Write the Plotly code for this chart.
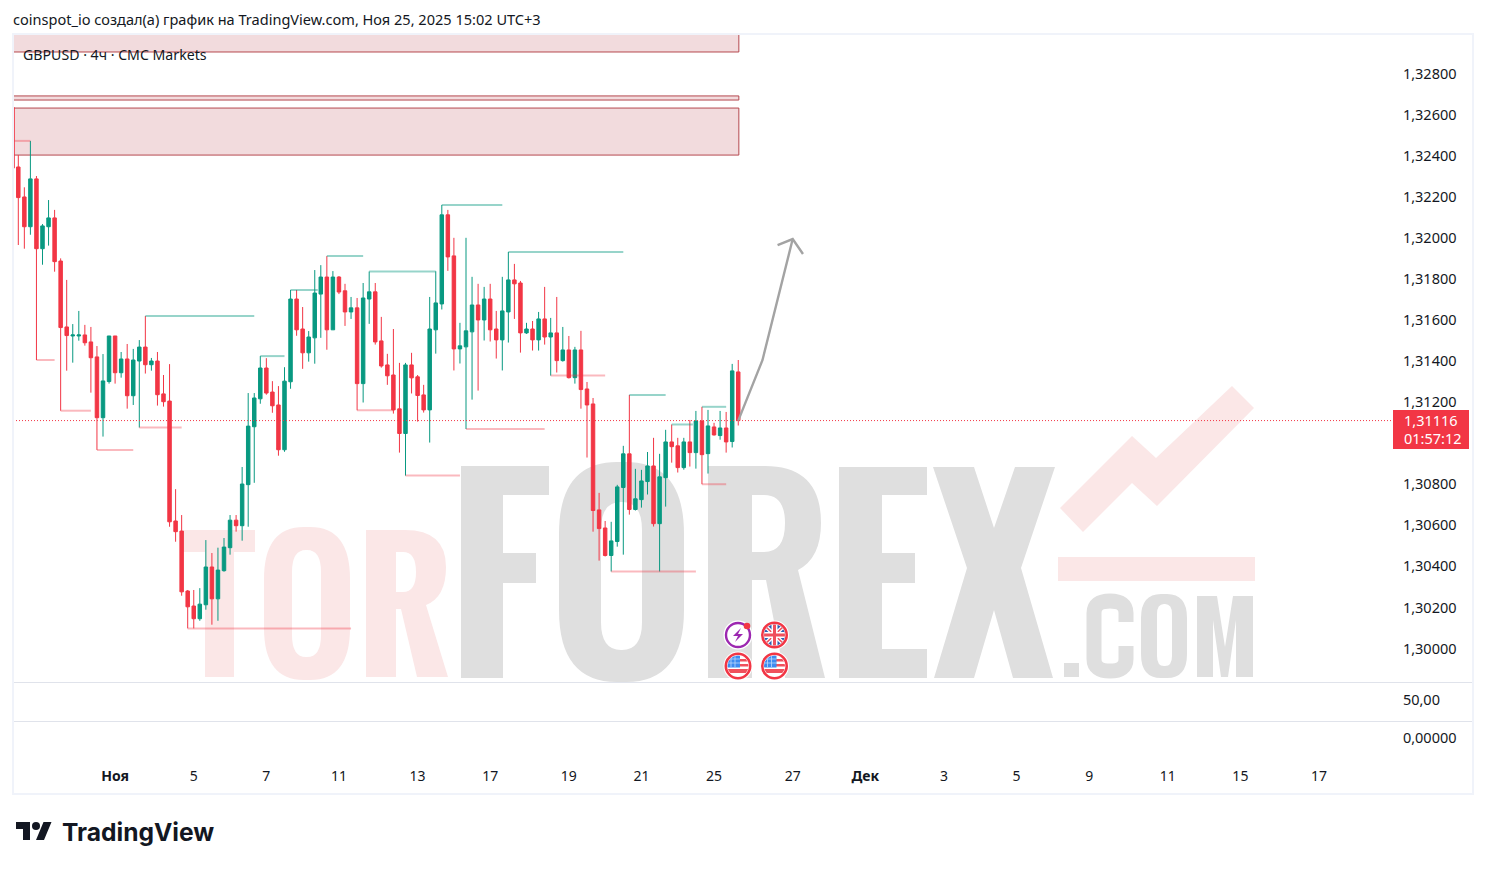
import base64
import plotly.graph_objects as go

highs = [1.32403,1.32246,1.32472,1.32301,1.32067,1.32184,1.32136,1.31900,1.31795,1.31580,
 1.31644,1.31576,1.31566,1.31473,1.31434,1.31522,1.31522,1.31444,1.31483,1.31459,
 1.31502,1.31619,1.31415,1.31444,1.31332,1.31385,1.30776,1.30650,1.30285,1.30285,
 1.30294,1.30528,1.30465,1.30491,1.30538,1.30650,1.30650,1.30884,1.31244,1.31244,
 1.31424,1.31414,1.31302,1.31278,1.31370,1.31746,1.31746,1.31663,1.31546,1.31843,
 1.31867,1.31911,1.31838,1.31814,1.31776,1.31712,1.31707,1.31780,1.31836,1.31780,
 1.31615,1.31435,1.31556,1.31391,1.31391,1.31440,1.31332,1.31284,1.31712,1.31837,
 1.32160,1.32136,1.32000,1.31586,1.32000,1.31810,1.31776,1.31761,1.31776,1.31644,
 1.31810,1.31931,1.31873,1.31790,1.31586,1.31595,1.31639,1.31761,1.31610,1.31712,
 1.31566,1.31522,1.31469,1.31547,1.31298,1.31220,1.30758,1.30621,1.30617,1.30797,
 1.30987,1.31235,1.30875,1.30870,1.30957,1.31026,1.30948,1.31065,1.31091,1.31026,
 1.31026,1.31113,1.31157,1.31177,1.31162,1.31099,1.31157,1.31152,1.31386,1.31405]
opens = [1.32345,1.32199,1.32054,1.32287,1.31947,1.32054,1.32097,1.31887,1.31566,1.31522,
 1.31522,1.31527,1.31493,1.31420,1.31124,1.31300,1.31522,1.31343,1.31410,1.31231,
 1.31400,1.31468,1.31382,1.31400,1.31240,1.31205,1.30621,1.30572,1.30280,1.30207,
 1.30145,1.30213,1.30397,1.30242,1.30379,1.30491,1.30625,1.30598,1.30798,1.31080,
 1.31216,1.31366,1.31249,1.31186,1.30968,1.31299,1.31702,1.31556,1.31440,1.31513,
 1.31726,1.31809,1.31552,1.31809,1.31742,1.31639,1.31659,1.31290,1.31702,1.31737,
 1.31498,1.31381,1.31332,1.31167,1.31047,1.31381,1.31323,1.31235,1.31162,1.31552,
 1.31678,1.32112,1.31912,1.31459,1.31469,1.31542,1.31673,1.31600,1.31702,1.31556,
 1.31503,1.31639,1.31795,1.31780,1.31537,1.31556,1.31503,1.31605,1.31517,1.31537,
 1.31402,1.31454,1.31319,1.31454,1.31264,1.31191,1.30675,1.30587,1.30453,1.30521,
 1.30784,1.30948,1.30677,1.30725,1.30813,1.30889,1.30608,1.30832,1.31006,1.30987,
 1.30881,1.31006,1.30954,1.31108,1.30949,1.31079,1.31037,1.31074,1.31008,1.31347]
closes = [1.32196,1.32054,1.32287,1.31947,1.32058,1.32097,1.31884,1.31563,1.31524,1.31527,
 1.31527,1.31489,1.31416,1.31124,1.31303,1.31522,1.31343,1.31410,1.31231,1.31405,
 1.31468,1.31382,1.31400,1.31236,1.31202,1.30617,1.30569,1.30276,1.30203,1.30145,
 1.30216,1.30397,1.30242,1.30382,1.30494,1.30625,1.30598,1.30801,1.31083,1.31220,
 1.31366,1.31244,1.31182,1.30968,1.31302,1.31702,1.31552,1.31440,1.31517,1.31731,
 1.31809,1.31552,1.31809,1.31736,1.31639,1.31659,1.31290,1.31707,1.31737,1.31493,
 1.31376,1.31328,1.31162,1.31047,1.31381,1.31318,1.31232,1.31162,1.31556,1.31683,
 1.32112,1.31907,1.31459,1.31474,1.31547,1.31673,1.31600,1.31702,1.31552,1.31503,
 1.31644,1.31795,1.31776,1.31537,1.31556,1.31503,1.31605,1.31517,1.31537,1.31402,
 1.31454,1.31319,1.31454,1.31261,1.31186,1.30672,1.30584,1.30453,1.30524,1.30787,
 1.30948,1.30677,1.30729,1.30816,1.30889,1.30608,1.30836,1.31006,1.30983,1.30881,
 1.31006,1.30954,1.31108,1.30944,1.31084,1.31040,1.31074,1.31006,1.31352,1.31110]
lows = [1.31965,1.31947,1.32015,1.31405,1.31869,1.31962,1.31835,1.31158,1.31353,1.31392,
 1.31499,1.31475,1.31246,1.30967,1.31032,1.31290,1.31290,1.31319,1.31168,1.31186,
 1.31076,1.31339,1.31353,1.31183,1.31178,1.30593,1.30520,1.30257,1.30098,1.30098,
 1.30135,1.30189,1.30116,1.30135,1.30374,1.30457,1.30569,1.30525,1.30593,1.30807,
 1.31192,1.31236,1.31148,1.30939,1.30958,1.31265,1.31523,1.31362,1.31397,1.31387,
 1.31513,1.31455,1.31552,1.31726,1.31571,1.31605,1.31160,1.31198,1.31581,1.31480,
 1.31368,1.31284,1.31144,1.30954,1.30842,1.31242,1.31105,1.31149,1.31003,1.31436,
 1.31651,1.31839,1.31354,1.31388,1.31069,1.31212,1.31256,1.31500,1.31495,1.31412,
 1.31354,1.31490,1.31605,1.31441,1.31532,1.31451,1.31451,1.31480,1.31329,1.31344,
 1.31397,1.31315,1.31290,1.31168,1.30930,1.30569,1.30428,1.30448,1.30375,1.30496,
 1.30457,1.30652,1.30672,1.30686,1.30750,1.30594,1.30375,1.30691,1.30905,1.30857,
 1.30871,1.30886,1.30876,1.30800,1.30852,1.31037,1.31017,1.30954,1.30979,1.31086]
bars = list(range(len(closes)))

price_ticks = [1.300,1.302,1.304,1.306,1.308,1.312,1.314,1.316,1.318,1.320,1.322,1.324,1.326,1.328]
time_tick_bars = [16,29,41,53,66,78,91,103,115,128,140,153,165,177,190,202,215]
time_tick_text = ["<b>Ноя</b>","5","7","11","13","17","19","21","25","27","<b>Дек</b>","3","5","9","11","15","17"]
osc_ticks = [50, 0]
osc_text = ["50,00", "0,00000"]

zone_tops = [1.33100, 1.32691, 1.32632]
zone_bottoms = [1.32905, 1.32671, 1.32403]

res_start = [21,40,45,51,58,70,81,101,108,113]
res_end = [39,44,49.5,57,69,80,100,107,111.5,117]
res_price = [1.31619,1.31424,1.31746,1.31911,1.31836,1.32160,1.31931,1.31235,1.31091,1.31177]
sup_start = [-0.7,3,7,13,20,28,56,64,74,88,98,113]
sup_end = [2,6,12,19,27,55,62,73,87,97,112,117]
sup_price = [1.32472,1.31405,1.31158,1.30967,1.31076,1.30098,1.31160,1.30842,1.31069,1.31329,1.30375,1.30800]

edge_wick_x = [-0.7,-0.7]
edge_wick_y = [1.32636,1.32339]
arrow_x = [119,123,128,None,125.5,128,129.7]
arrow_y = [1.31110,1.31404,1.31994,None,1.31965,1.31994,1.31921]
last_price = 1.31110

UP, DOWN = "#089981", "#F23645"
INK = "#131722"
FONT = "Noto Sans"
TICK = 14.5

L, R_PLOT, TOP, PANE, BOTTOM = 13, 1396, 34, 682, 757
W, H = R_PLOT - L, BOTTOM - TOP
xp = lambda px: (px - L) / W
yp = lambda py: 1 - (py - TOP) / H


def segs(a, b, p):
    xs, ys = [], []
    for s, e, v in zip(a, b, p):
        xs += [s, e, None]
        ys += [v, v, None]
    return xs, ys


def uri(svg):
    return "data:image/svg+xml;base64," + base64.b64encode(svg.encode()).decode()


def rrect(x0, y0, x1, y1, rx, ry):
    return (f"M{x0+rx},{y0} H{x1-rx} Q{x1},{y0} {x1},{y0+ry} V{y1-ry} Q{x1},{y1} {x1-rx},{y1} "
            f"H{x0+rx} Q{x0},{y1} {x0},{y1-ry} V{y0+ry} Q{x0},{y0} {x0+rx},{y0} Z ")


pink = "#FBE7E7"
grey = "#DFDFDF"
mark = f'''<svg xmlns="http://www.w3.org/2000/svg" width="1487" height="869" viewBox="0 0 1487 869">
<g fill="{pink}" fill-rule="evenodd">
<path d="M183,530 H255 V552 H234 V677 H205 V552 H183 Z"/>
<path d="{rrect(264,527,350,680,40,52)}{rrect(292,550,321,657,14,22)}"/>
<path d="M366,530 H405 Q446,530 446,567 Q446,597 426,605 L448,677 H417 L401,609 H396 V677 H366 Z M396,552 V592 H403 Q416,592 416,572 Q416,552 403,552 Z"/>
<path d="M1060,508 L1132,436 L1156,458 L1232,386 L1254,408 L1157,506 L1132,483 L1083,532 Z"/>
<rect x="1058" y="557" width="197" height="24"/>
</g>
<g fill="{grey}" fill-rule="evenodd">
<path d="M461,466 H549 V495 H503 V553 H536 V583 H503 V678 H461 Z"/>
<path d="{rrect(559,462,684,682,58,72)}{rrect(601,502,642,650,20,28)}"/>
<path d="M708,466 H765 Q821,466 821,523 Q821,558 798,570 L825,678 H785 L766,580 H752 V678 H708 Z M752,495 V552 H764 Q785,552 785,523 Q785,495 764,495 Z"/>
<path d="M839,467 H927 V495 H882 V553 H915 V583 H882 V649 H927 V678 H839 Z"/>
<path d="M933,467 H974 L994,528 L1015,467 H1055 L1021,568 L1053,678 H1013 L994,610 L974,678 H934 L967,568 Z"/>
<rect x="1064" y="663" width="15" height="14"/>
<path d="{rrect(1141,594,1187,678,20,24)}{rrect(1157,604,1172,666,7,10)}"/>
<path d="M1197,596 H1217 L1225,647 L1233,596 H1253 V677 H1236 V620 L1228,677 H1221 L1213,620 V677 H1197 Z"/>
</g>
<path d="M1126,622 V613 Q1126,601 1110,601 Q1094,601 1094,613 V659 Q1094,671 1110,671 Q1126,671 1126,659 V646" fill="none" stroke="{grey}" stroke-width="15"/>
</svg>'''


def us_flag(cx, cy, cid):
    return f'''<clipPath id="{cid}"><circle cx="{cx}" cy="{cy}" r="10.5"/></clipPath>
<circle cx="{cx}" cy="{cy}" r="14.5" fill="#fff"/>
<g clip-path="url(#{cid})"><rect x="{cx-11}" y="{cy-11}" width="22" height="22" fill="#fff"/>
<rect x="{cx-11}" y="{cy+3}" width="22" height="4" fill="#F0505C"/>
<rect x="{cx}" y="{cy-7}" width="11" height="2.5" fill="#F0505C"/>
<rect x="{cx}" y="{cy-2}" width="11" height="2.5" fill="#F0505C"/>
<rect x="{cx-11}" y="{cy-11}" width="13" height="12.5" fill="#3D8BF0"/>
<path d="M{cx-7},{cy-11} V{cy+1} M{cx-3},{cy-11} V{cy+1} M{cx-11},{cy-7} H{cx+2} M{cx-11},{cy-3} H{cx+2}" stroke="#BBD8FA" stroke-width="0.8"/></g>
<circle cx="{cx}" cy="{cy}" r="12.2" fill="none" stroke="#F23645" stroke-width="2.6"/>'''


overlay = f'''<svg xmlns="http://www.w3.org/2000/svg" width="1487" height="869" viewBox="0 0 1487 869">
<circle cx="738" cy="635" r="14.5" fill="#fff"/>
<circle cx="738" cy="635" r="12" fill="none" stroke="#9C27B0" stroke-width="2.4"/>
<path d="M741,628 L733,636 H738 L735,642 L743,634 H738 Z" fill="#9C27B0"/>
<circle cx="747" cy="626" r="3.3" fill="#F23645"/>
<clipPath id="uk"><circle cx="774.5" cy="635" r="10.5"/></clipPath>
<circle cx="774.5" cy="635" r="14.5" fill="#fff"/>
<g clip-path="url(#uk)"><rect x="763" y="624" width="23" height="22" fill="#2B5FB3"/>
<path d="M763,624 L786,646 M786,624 L763,646" stroke="#fff" stroke-width="4"/>
<path d="M763,624 L786,646 M786,624 L763,646" stroke="#F0505C" stroke-width="1.5"/>
<path d="M774.5,623 V647 M762,635 H787" stroke="#fff" stroke-width="6"/>
<path d="M774.5,623 V647 M762,635 H787" stroke="#F0505C" stroke-width="3"/></g>
<circle cx="774.5" cy="635" r="12.2" fill="none" stroke="#F23645" stroke-width="2.6"/>
{us_flag(738,666,"us1")}
{us_flag(774.5,666,"us2")}
<g transform="translate(16,818)"><path d="M14 22H7V11H0V4h14v18ZM28 22h-8l7.5-18h8L28 22Z" fill="#131722"/><circle cx="20" cy="8" r="4" fill="#131722"/></g>
</svg>'''

res_x, res_y = segs(res_start, res_end, res_price)
sup_x, sup_y = segs(sup_start, sup_end, sup_price)

fig = go.Figure()
fig.add_trace(go.Scatter(x=res_x, y=res_y, mode="lines", hoverinfo="skip",
                         line=dict(color="rgba(8,153,129,0.42)", width=2)))
fig.add_trace(go.Scatter(x=sup_x, y=sup_y, mode="lines", hoverinfo="skip",
                         line=dict(color="rgba(242,54,69,0.35)", width=2)))
fig.add_trace(go.Scatter(x=edge_wick_x, y=edge_wick_y, mode="lines", hoverinfo="skip",
                         line=dict(color=DOWN, width=1.5)))
fig.add_trace(go.Candlestick(
    x=bars, open=opens, high=highs, low=lows, close=closes, whiskerwidth=0,
    increasing=dict(line=dict(color=UP, width=1), fillcolor=UP),
    decreasing=dict(line=dict(color=DOWN, width=1), fillcolor=DOWN), hoverinfo="skip"))
fig.add_trace(go.Scatter(x=arrow_x, y=arrow_y, mode="lines", hoverinfo="skip",
                         line=dict(color="#A3A3A3", width=2.4)))
fig.add_trace(go.Scatter(x=[0], y=[0], yaxis="y2", mode="markers", marker=dict(opacity=0), hoverinfo="skip"))

shapes = []
for t, b in zip(zone_tops, zone_bottoms):
    shapes.append(dict(type="rect", xref="x", yref="y", x0=-3, x1=119.1, y0=b, y1=t, layer="below",
                       fillcolor="rgba(178,40,51,0.17)", line=dict(color="#B5484F", width=1)))
shapes.append(dict(type="line", xref="paper", yref="y", x0=0, x1=xp(1393), y0=last_price, y1=last_price,
                   line=dict(color=DOWN, width=1, dash="1px,2px")))
for py in (PANE, 721):
    shapes.append(dict(type="line", xref="paper", yref="paper", x0=0, x1=xp(1473), y0=yp(py + .5), y1=yp(py + .5),
                       line=dict(color="#E0E3EB", width=1)))
shapes.append(dict(type="rect", xref="paper", yref="paper", x0=0, x1=xp(1473), y0=yp(794), y1=yp(34),
                   line=dict(color="#F0F3FA", width=2)))
shapes.append(dict(type="rect", xref="paper", yref="paper", x0=xp(1393), x1=xp(1469), y0=yp(449), y1=yp(410),
                   fillcolor=DOWN, line=dict(width=0)))


def note(px, py, text, size=14, color=INK, anchor="left", family=FONT):
    return dict(xref="paper", yref="paper", x=xp(px), y=yp(py), text=text, showarrow=False, borderpad=0, borderwidth=0,
                xanchor=anchor, yanchor="middle", font=dict(family=family, size=size, color=color))


annotations = [
    note(13, 19, "coinspot_io создал(а) график на TradingView.com, Ноя 25, 2025 15:02 UTC+3", 14.55),
    note(23, 54, "GBPUSD · 4ч · CMC Markets", 14.15),
    note(1431, 420, "1,31116", 14.5, "#FFFFFF", "center"),
    note(1433, 438, "01:57:12", 14.5, "#FFFFFF", "center"),
    note(62, 832, "<b>TradingView</b>", 24.6, "#131722", "left", "Inter"),
]

canvas = dict(xref="paper", yref="paper", x=-L / W, y=1 + TOP / H, sizex=1487 / W, sizey=869 / H,
              xanchor="left", yanchor="top", sizing="stretch")

fig.update_layout(
    width=1487, height=869, autosize=False, showlegend=False, boxgap=0.18,
    paper_bgcolor="#FFFFFF", plot_bgcolor="rgba(0,0,0,0)", separators=",.",
    margin=dict(l=L, r=1487 - R_PLOT, t=TOP, b=869 - BOTTOM, pad=0),
    shapes=shapes, annotations=annotations,
    images=[dict(source=uri(mark), layer="below", **canvas), dict(source=uri(overlay), layer="above", **canvas)],
    xaxis=dict(anchor="y2", range=[-0.876, 227.72], rangeslider=dict(visible=False), showgrid=False, zeroline=False,
               showline=False, tickmode="array", tickvals=time_tick_bars, ticktext=time_tick_text,
               ticks="outside", ticklen=6, tickcolor="rgba(0,0,0,0)", tickangle=0,
               tickfont=dict(family=FONT, size=14, color=INK)),
    yaxis=dict(domain=[(BOTTOM - PANE) / H, 1], range=[1.298369, 1.329926], side="right", showgrid=False,
               zeroline=False, showline=False, tickmode="array", tickvals=price_ticks, tickformat=".5f",
               ticks="outside", ticklen=3, tickcolor="rgba(0,0,0,0)", tickfont=dict(family=FONT, size=TICK, color=INK)),
    yaxis2=dict(domain=[0, (BOTTOM - PANE) / H], range=[-25, 73.7], side="right", showgrid=False, zeroline=False,
                showline=False, tickmode="array", tickvals=osc_ticks, ticktext=osc_text,
                ticks="outside", ticklen=3, tickcolor="rgba(0,0,0,0)", tickfont=dict(family=FONT, size=TICK, color=INK)),
)

fig.write_html("out.html", config=dict(displayModeBar=False),
               post_script="document.body.style.margin='0';document.body.style.overflow='hidden';")
